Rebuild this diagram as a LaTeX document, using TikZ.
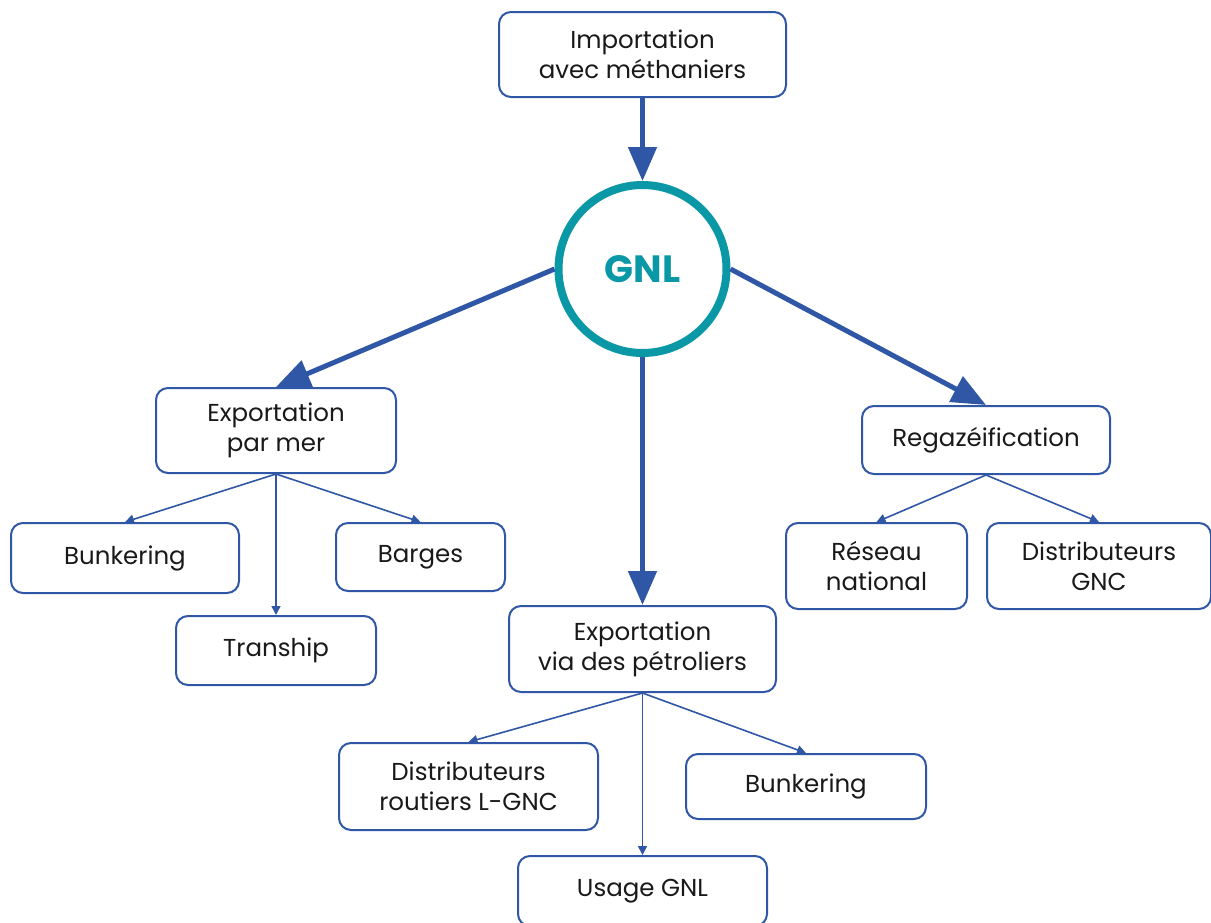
\documentclass[tikz,border=0pt]{standalone}
\usepackage{fontspec}
\setmainfont{Poppins}
\usepackage{tikz}
\usetikzlibrary{shapes, arrows.meta, positioning}
\definecolor{gnlblue}{HTML}{2F57A6}
\definecolor{gnlteal}{HTML}{0A97A6}
\tikzstyle{block} = [rectangle, draw=gnlblue, line width=2pt, fill=white, align=center,
    rounded corners=12pt, text=black!90, font=\fontsize{24.5}{30}\selectfont]
\tikzstyle{hub} = [circle, draw=gnlteal, line width=8pt, fill=white, minimum size=168pt,
    text=gnlteal, font=\fontsize{38}{40}\selectfont\bfseries]
\tikzstyle{flow} = [draw=gnlblue, line width=5pt, -{Triangle[length=34pt, width=28pt]}]
\tikzstyle{line} = [draw=gnlblue, line width=1.6pt, -{Triangle[length=9pt, width=9pt]}]

\begin{document}
\begin{tikzpicture}[x=1pt, y=1pt]
      \useasboundingbox (0,0) rectangle (1211,-922);
      % Source and hub
      \node [block, minimum width=287pt, minimum height=85pt] (import) at (642.5,-54.5) {Importation\\avec méthaniers};
      \node [hub, below=83pt of import] (gnl) {GNL};
      % Main outlets
      \node [block, minimum width=240pt, minimum height=85pt] (parmer) at (276,-430.5) {Exportation\\par mer};
      \node [block, minimum width=248pt, minimum height=68pt] (regaz) at (986,-440) {Regazéification};
      \node [block, minimum width=267pt, minimum height=86pt, below=248pt of gnl] (petroliers) {Exportation\\via des pétroliers};
      % Sea export
      \node [block, minimum width=228pt, minimum height=70pt, below=48pt of parmer, xshift=-151pt] (bunker-sea) {Bunkering};
      \node [block, minimum width=169pt, minimum height=68pt, below=48pt of parmer, xshift=144.5pt] (barges) {Barges};
      \node [block, minimum width=200pt, minimum height=69pt, below=141pt of parmer] (tranship) {Tranship};
      % Regasification
      \node [block, minimum width=181pt, minimum height=86pt, below=47pt of regaz, xshift=-109.5pt] (reseau) {Réseau\\national};
      \node [block, minimum width=224pt, minimum height=86pt, below=47pt of regaz, xshift=113pt] (gnc) {Distributeurs\\GNC};
      % Tanker export
      \node [block, minimum width=259pt, minimum height=87pt, below=49pt of petroliers, xshift=-174pt] (lgnc) {Distributeurs\\routiers L-GNC};
      \node [block, minimum width=240pt, minimum height=65pt, below=60pt of petroliers, xshift=163.5pt] (bunker-tank) {Bunkering};
      \node [block, minimum width=249pt, minimum height=70pt, below=162pt of petroliers] (usage) {Usage GNL};
      % Draw edges
      \path [flow] (import) -- (gnl);
      \path [flow] (gnl.west) -- (parmer.north);
      \path [flow] (gnl.east) -- (regaz.north);
      \path [flow] (gnl) -- (petroliers);
      \path [line] (parmer.south) -- (bunker-sea.north);
      \path [line] (parmer.south) -- (barges.north);
      \path [line] (parmer.south) -- (tranship.north);
      \path [line] (regaz.south) -- (reseau.north);
      \path [line] (regaz.south) -- (gnc.north);
      \path [line] (petroliers.south) -- (lgnc.north);
      \path [line] (petroliers.south) -- (bunker-tank.north);
      \path [line] (petroliers.south) -- (usage.north);
  \end{tikzpicture}
\end{document}
